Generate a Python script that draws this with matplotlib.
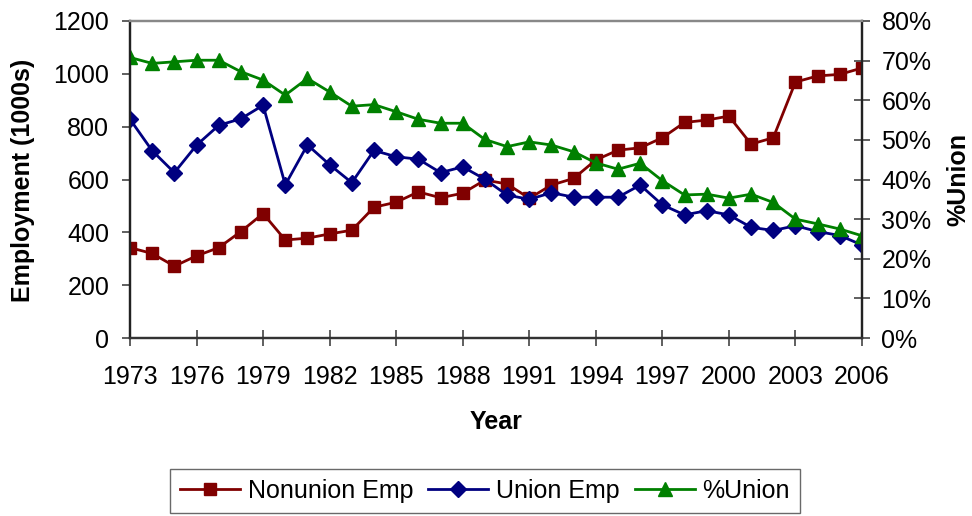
import matplotlib
matplotlib.use("Agg")
import matplotlib.pyplot as plt
from matplotlib.ticker import FuncFormatter

plt.rcParams['font.family'] = ['Liberation Sans', 'DejaVu Sans']

years = list(range(1973, 2007))
nonunion = [342, 320, 272, 311, 342, 403, 471, 371, 378, 394, 408, 495,
            514, 553, 531, 548, 598, 583, 529, 579, 604, 674, 711, 720,
            758, 816, 825, 840, 734, 758, 969, 992, 998, 1022]
union = [828, 709, 626, 730, 805, 830, 881, 580, 731, 656, 588, 710,
         686, 677, 626, 648, 601, 541, 525, 550, 533, 533, 533, 579,
         504, 466, 482, 466, 419, 407, 425, 403, 388, 352]
pct_union = [70.8, 69.3, 69.7, 70.1, 70.1, 67.2, 65.1, 61.3, 65.5, 62.1, 58.5, 58.9,
             57.1, 55.2, 54.2, 54.2, 50.1, 48.3, 49.5, 48.7, 47.0, 44.2, 42.6, 44.1,
             39.7, 36.1, 36.3, 35.3, 36.3, 34.2, 30.0, 28.8, 27.5, 25.8]

red = '#800000'
blue = '#000080'
green = '#008000'
fs = 18

W, H = 972, 516
fig = plt.figure(figsize=(W / 100, H / 100), dpi=100)
ax = fig.add_axes([130 / W, 1 - 338 / H, (862 - 130) / W, (338 - 21) / H])
ax2 = ax.twinx()

l1, = ax.plot(years, nonunion, color=red, marker='s', markersize=8.5, lw=2, label='Nonunion Emp')
l2, = ax.plot(years, union, color=blue, marker='D', markersize=8.5, lw=2, label='Union Emp')
l3, = ax2.plot(years, pct_union, color=green, marker='^', markersize=10.5, lw=2, label='%Union')

ax.set_xlim(1973, 2006)
ax.set_ylim(0, 1200)
ax2.set_ylim(0, 80)
ax.set_xticks(range(1973, 2007, 3))
ax.set_yticks(range(0, 1201, 200))
ax2.set_yticks(range(0, 81, 10))
ax2.yaxis.set_major_formatter(FuncFormatter(lambda v, p: f'{int(v)}%'))

ax.tick_params(axis='x', direction='inout', length=11, width=1.2, labelsize=fs, pad=14, color='#444444')
ax.tick_params(axis='y', direction='out', length=6, width=1.2, labelsize=fs, pad=9, color='#444444')
ax2.tick_params(axis='y', direction='inout', length=12, width=1.2, labelsize=fs, pad=8, color='#444444')

for a in (ax, ax2):
    a.spines['top'].set_color('#888888')
    a.spines['left'].set_color('#222222')
    a.spines['bottom'].set_color('#333333')
    a.spines['right'].set_color('#222222')
    for s in a.spines.values():
        s.set_linewidth(1.6)

fig.text(23 / W, 1 - 180 / H, 'Employment (1000s)', fontsize=fs, fontweight='bold',
         rotation=90, ha='center', va='center')
fig.text(958 / W, 1 - 180 / H, '%Union', fontsize=fs, fontweight='bold',
         rotation=90, ha='center', va='center')
fig.text(496 / W, 1 - 422 / H, 'Year', fontsize=fs, fontweight='bold', ha='center', va='center')

leg = fig.legend(handles=[l1, l2, l3], loc='center', bbox_to_anchor=(485 / W, 1 - 491 / H), ncol=3,
                 fontsize=fs, frameon=True, fancybox=False, edgecolor='#444444',
                 handlelength=2.4, handletextpad=0.3, columnspacing=0.6, borderpad=0.4,
                 borderaxespad=0)
leg.get_frame().set_linewidth(1.0)

fig.savefig('out.png', dpi=100)
